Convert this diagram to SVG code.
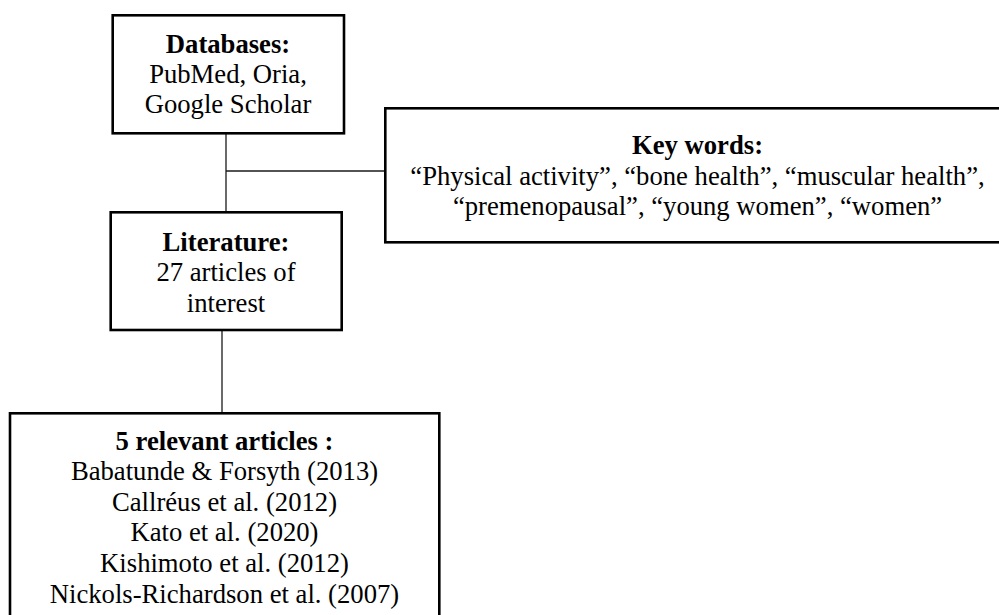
<svg xmlns="http://www.w3.org/2000/svg" width="999" height="615" viewBox="0 0 999 615">
  <style>
    .box { fill: #ffffff; stroke: #000000; stroke-width: 2.6; }
    .conn { stroke: #1a1a1a; stroke-width: 1.3; fill: none; }
    text { font-family: "Liberation Serif", "Times New Roman", serif; font-size: 26.67px; fill: #000000; text-anchor: middle; }
    .b { font-weight: bold; }
  </style>
  <rect x="0" y="0" width="999" height="615" fill="#ffffff"/>
  <g id="connectors">
    <line class="conn" x1="226" y1="133" x2="226" y2="213"/>
    <line class="conn" x1="226" y1="171" x2="385" y2="171"/>
    <line class="conn" x1="222" y1="330" x2="222" y2="413"/>
  </g>
  <g id="databases">
    <rect class="box" x="112.7" y="15.3" width="231.3" height="118"/>
    <text x="228" y="53" class="b">Databases:</text>
    <text x="228" y="83">PubMed, Oria,</text>
    <text x="228" y="113">Google Scholar</text>
  </g>
  <g id="keywords">
    <rect class="box" x="385.3" y="108.3" width="625" height="134"/>
    <text x="697.5" y="154" class="b">Key words:</text>
    <text x="697.5" y="184.5">“Physical activity”, “bone health”, “muscular health”,</text>
    <text x="697.5" y="215">“premenopausal”, “young women”, “women”</text>
  </g>
  <g id="literature">
    <rect class="box" x="110.7" y="212.3" width="231" height="117.7"/>
    <text x="226" y="250.5" class="b">Literature:</text>
    <text x="226" y="281">27 articles of</text>
    <text x="226" y="311.5">interest</text>
  </g>
  <g id="relevant">
    <rect class="box" x="10" y="413.3" width="429.3" height="215"/>
    <text x="224.5" y="449.5" class="b">5 relevant articles :</text>
    <text x="224.5" y="480">Babatunde &amp; Forsyth (2013)</text>
    <text x="224.5" y="510.7">Callréus et al. (2012)</text>
    <text x="224.5" y="541.3">Kato et al. (2020)</text>
    <text x="224.5" y="572">Kishimoto et al. (2012)</text>
    <text x="224.5" y="602.5">Nickols-Richardson et al. (2007)</text>
  </g>
</svg>
